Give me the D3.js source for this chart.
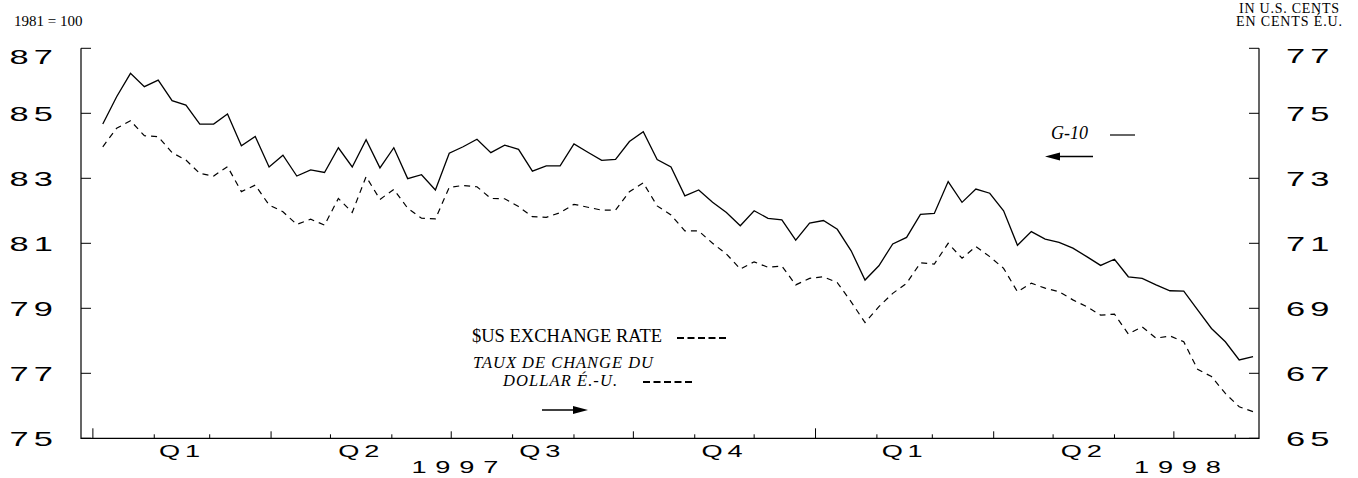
<!DOCTYPE html>
<html lang="en">
<head>
<meta charset="utf-8">
<title>G-10 index and $US exchange rate</title>
<script src="https://d3js.org/d3.v7.min.js"></script>
<style>
    body { margin: 0; background: #fff; }
    .serif { font-family: "Liberation Serif", "Times New Roman", serif; fill: #000; }
    .wide { font-family: "Liberation Sans", Arial, sans-serif; fill: #000; }
</style>
</head>
<body>
<script>
// Weekly observations, starting the first Monday of 1997
var startDate = new Date(1997, 0, 6);

// G-10 index, 1981 = 100 (left axis)
var g10Index = [
    84.67, 85.51, 86.23, 85.82, 86.02, 85.39, 85.25, 84.67, 84.67, 84.98,
    84.00, 84.29, 83.35, 83.71, 83.07, 83.26, 83.18, 83.94, 83.35, 84.19,
    83.32, 83.94, 82.99, 83.11, 82.64, 83.77, 83.97, 84.20, 83.79, 84.02,
    83.89, 83.22, 83.38, 83.38, 84.06, 83.80, 83.55, 83.58, 84.13, 84.43,
    83.58, 83.35, 82.46, 82.64, 82.26, 81.95, 81.54, 82.00, 81.77, 81.72,
    81.10, 81.62, 81.70, 81.43, 80.77, 79.87, 80.31, 80.98, 81.18, 81.89,
    81.92, 82.90, 82.26, 82.67, 82.54, 82.00, 80.94, 81.36, 81.13, 81.03,
    80.85, 80.59, 80.32, 80.51, 79.97, 79.92, 79.72, 79.54, 79.53, 78.95,
    78.38, 77.97, 77.41, 77.51
];

// $US exchange rate in U.S. cents (right axis)
var usCents = [
    73.97, 74.54, 74.77, 74.31, 74.28, 73.79, 73.56, 73.15, 73.07, 73.36,
    72.59, 72.79, 72.18, 71.97, 71.58, 71.74, 71.56, 72.38, 71.95, 73.05,
    72.35, 72.66, 72.08, 71.77, 71.75, 72.72, 72.78, 72.74, 72.38, 72.37,
    72.13, 71.82, 71.80, 71.94, 72.20, 72.11, 72.02, 72.02, 72.59, 72.86,
    72.15, 71.87, 71.38, 71.38, 71.00, 70.67, 70.21, 70.43, 70.26, 70.30,
    69.72, 69.92, 69.97, 69.79, 69.20, 68.56, 69.05, 69.46, 69.77, 70.40,
    70.36, 71.00, 70.54, 70.90, 70.59, 70.23, 69.51, 69.77, 69.62, 69.51,
    69.26, 69.05, 68.79, 68.82, 68.21, 68.43, 68.08, 68.15, 67.97, 67.12,
    66.90, 66.38, 65.97, 65.82
];

var leftTicks = [75, 77, 79, 81, 83, 85, 87];
var rightTicks = [65, 67, 69, 71, 73, 75, 77];
var quarterLabels = ["Q1", "Q2", "Q3", "Q4", "Q1", "Q2"];
var yearLabels = ["1997", "1998"];

var width = 1358, height = 478;
var plot = { left: 81, right: 1259, top: 48.3, bottom: 438.3 };

var svg = d3.select("body").append("svg")
    .attr("width", width)
    .attr("height", height);

var dates = g10Index.map(function(d, i) { return d3.timeDay.offset(startDate, 7 * i); });

var xScale = d3.scaleTime()
    .domain([new Date(1996, 11, 26), new Date(1998, 7, 13)])
    .range([plot.left, plot.right]);

var yLeft = d3.scaleLinear().domain([75, 87]).range([plot.bottom, plot.top]);
var yRight = d3.scaleLinear().domain([65, 77]).range([plot.bottom, plot.top]);

// stretched sans labels used for the axes
function wideText(x, y, txt, anchor, size, stretch, spacing) {
    svg.append("text")
        .attr("class", "wide")
        .attr("transform", "translate(" + x + "," + y + ") scale(" + stretch + ",1)")
        .attr("text-anchor", anchor)
        .attr("font-size", size + "px")
        .attr("letter-spacing", spacing + "px")
        .text(txt);
}

// frame: left, bottom, right (no top line)
svg.append("path")
    .attr("d", "M" + plot.left + "," + plot.top + "V" + plot.bottom + "H" + plot.right + "V" + plot.top)
    .attr("fill", "none")
    .attr("stroke", "#000")
    .attr("stroke-width", 1.2);

// y ticks (inward) and labels
leftTicks.forEach(function(v) {
    var y = yLeft(v);
    svg.append("line").attr("x1", plot.left).attr("x2", plot.left + 10)
        .attr("y1", y).attr("y2", y).attr("stroke", "#000");
    var dy = (v === 87) ? 16 : 8;
    wideText(58, y + dy, v, "end", 20, 1.72, 3);
});

rightTicks.forEach(function(v) {
    var y = yRight(v);
    svg.append("line").attr("x1", plot.right - 10).attr("x2", plot.right)
        .attr("y1", y).attr("y2", y).attr("stroke", "#000");
    var dy = (v === 77) ? 15 : 8;
    wideText(1286, y + dy, v, "start", 20, 1.72, 3);
});

// x ticks at month starts, taller on quarters and years
var months = d3.timeMonth.range(new Date(1997, 0, 1), new Date(1998, 7, 2));
months.forEach(function(m) {
    var len = m.getMonth() === 0 ? 10 : (m.getMonth() % 3 === 0 ? 7 : 4);
    svg.append("line")
        .attr("x1", xScale(m)).attr("x2", xScale(m))
        .attr("y1", plot.bottom).attr("y2", plot.bottom - len)
        .attr("stroke", "#000");
});

// quarter labels centered between quarter starts
var quarterStarts = d3.timeMonth.every(3).range(new Date(1997, 0, 1), new Date(1998, 6, 2));
quarterLabels.forEach(function(q, i) {
    var cx = (xScale(quarterStarts[i]) + xScale(quarterStarts[i + 1])) / 2;
    wideText(cx, 457, q, "middle", 17, 1.6, 3);
});

yearLabels.forEach(function(yr) {
    wideText(xScale(new Date(+yr, 6, 1)) + 8, 473, yr, "middle", 17, 1.6, 5.5);
});

// series lines
var lineLeft = d3.line()
    .x(function(d, i) { return xScale(dates[i]); })
    .y(function(d) { return yLeft(d); });

var lineRight = d3.line()
    .x(function(d, i) { return xScale(dates[i]); })
    .y(function(d) { return yRight(d); });

svg.append("path")
    .datum(usCents)
    .attr("d", lineRight)
    .attr("fill", "none")
    .attr("stroke", "#000")
    .attr("stroke-width", 1.2)
    .attr("stroke-dasharray", "6,5");

svg.append("path")
    .datum(g10Index)
    .attr("d", lineLeft)
    .attr("fill", "none")
    .attr("stroke", "#000")
    .attr("stroke-width", 1.3);

// corner titles
svg.append("text").attr("class", "serif")
    .attr("x", 14).attr("y", 26)
    .attr("font-size", "15px")
    .text("1981 = 100");

svg.append("text").attr("class", "serif")
    .attr("x", 1289).attr("y", 13)
    .attr("text-anchor", "middle")
    .attr("font-size", "14px")
    .attr("textLength", 100)
    .text("IN U.S. CENTS");

svg.append("text").attr("class", "serif")
    .attr("x", 1289).attr("y", 26)
    .attr("text-anchor", "middle")
    .attr("font-size", "14px")
    .attr("textLength", 106)
    .text("EN CENTS É.U.");

// legend: G-10
svg.append("text").attr("class", "serif")
    .attr("x", 1051).attr("y", 139)
    .attr("font-size", "18px")
    .attr("font-style", "italic")
    .text("G-10");
svg.append("line").attr("x1", 1110).attr("x2", 1135)
    .attr("y1", 135).attr("y2", 135).attr("stroke", "#000").attr("stroke-width", 1.2);

// arrow pointing left
svg.append("line").attr("x1", 1055).attr("x2", 1093)
    .attr("y1", 156.5).attr("y2", 156.5).attr("stroke", "#000").attr("stroke-width", 1.5);
svg.append("path").attr("d", "M1045,156.5L1060,152.5L1060,160.5Z").attr("fill", "#000");

// legend: $US exchange rate
svg.append("text").attr("class", "serif")
    .attr("x", 472).attr("y", 342)
    .attr("font-size", "18.5px")
    .text("$US EXCHANGE RATE");
svg.append("line").attr("x1", 677).attr("x2", 727)
    .attr("y1", 338).attr("y2", 338)
    .attr("stroke", "#000").attr("stroke-width", 2)
    .attr("stroke-dasharray", "7,3.5");

svg.append("text").attr("class", "serif")
    .attr("x", 473).attr("y", 368)
    .attr("font-size", "16.5px")
    .attr("font-style", "italic")
    .attr("textLength", 180)
    .text("TAUX DE CHANGE DU");
svg.append("text").attr("class", "serif")
    .attr("x", 503).attr("y", 386)
    .attr("font-size", "16.5px")
    .attr("font-style", "italic")
    .attr("textLength", 114)
    .text("DOLLAR É.-U.");
svg.append("line").attr("x1", 643).attr("x2", 693)
    .attr("y1", 382).attr("y2", 382)
    .attr("stroke", "#000").attr("stroke-width", 2)
    .attr("stroke-dasharray", "7,3.5");

// arrow pointing right
svg.append("line").attr("x1", 542).attr("x2", 578)
    .attr("y1", 410).attr("y2", 410).attr("stroke", "#000").attr("stroke-width", 1.5);
svg.append("path").attr("d", "M588,410L573,406L573,414Z").attr("fill", "#000");
</script>
</body>
</html>
